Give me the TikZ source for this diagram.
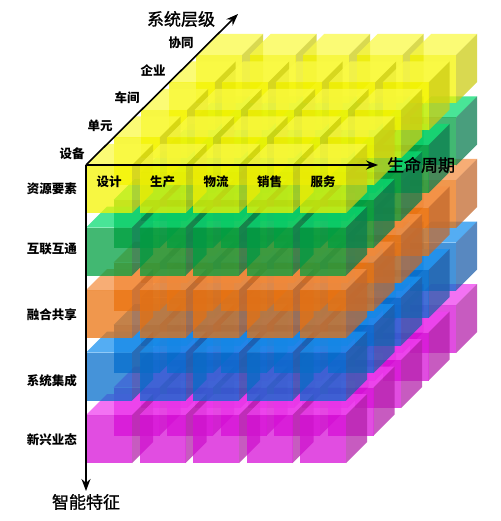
\documentclass[tikz,border=0pt]{standalone}
\usepackage{fontspec}
\newfontfamily\cjk{Noto Sans CJK SC}
\newfontfamily\cjkm[FakeBold=1.2]{Noto Sans CJK SC}
\usetikzlibrary{arrows.meta}
\definecolor{front0}{RGB}{245,245,0}
\definecolor{top0}{RGB}{250,250,70}
\definecolor{side0}{RGB}{205,205,20}
\definecolor{front1}{RGB}{0,160,65}
\definecolor{top1}{RGB}{10,220,115}
\definecolor{side1}{RGB}{10,125,80}
\definecolor{front2}{RGB}{235,115,15}
\definecolor{top2}{RGB}{245,145,70}
\definecolor{side2}{RGB}{195,105,45}
\definecolor{front3}{RGB}{5,110,205}
\definecolor{top3}{RGB}{25,145,240}
\definecolor{side3}{RGB}{30,95,170}
\definecolor{front4}{RGB}{215,15,215}
\definecolor{top4}{RGB}{240,65,240}
\definecolor{side4}{RGB}{180,35,170}
\begin{document}
\begin{tikzpicture}[x=1pt,y=-1pt,
  lbl/.style={font=\cjk\bfseries\fontsize{12.5}{14}\selectfont, inner sep=0pt},
  ttl/.style={font=\cjkm\fontsize{17}{19}\selectfont, inner sep=0pt},
  axis/.style={line width=1.6pt, -{Stealth[length=12pt,width=9pt]}},
  face/.style={fill opacity=0.74, draw=none}]
\useasboundingbox (0,0) rectangle (500,521);
\fill[white] (0,0) rectangle (500,521);
\foreach \k in {4,3,2,1,0}{
 \foreach \j in {4,3,2,1,0}{
  \foreach \i in {0,...,4}{
   \pgfmathsetmacro\xo{86+\i*53.5+\k*27.5}
   \pgfmathsetmacro\yo{165+\j*62.5-\k*27.5}
   \fill[face, fill=top\j] (\xo,\yo) -- ++(46,0) -- ++(21,-21) -- ++(-46,0) -- cycle;
   \fill[face, fill=side\j] (\xo+46,\yo) -- ++(21,-21) -- ++(0,48) -- ++(-21,21) -- cycle;
   \fill[face, fill=front\j] (\xo,\yo) rectangle ++(46,48);
  }}}
\coordinate (O) at (86,165);
\coordinate (Xe) at (378,165);
\coordinate (Ye) at (86,491);
\coordinate (Ze) at (238,14);
\draw[axis] (O) -- (Xe);
\draw[axis] (O) -- (Ye);
\draw[axis] (O) -- (Ze);
\node[ttl] (tz) at (181,19) {系统层级};
\node[ttl] (tx) at (421,165) {生命周期};
\node[ttl] (ty) at (86,502) {智能特征};
\node[lbl] (d0) at (72,154) {设备};
\node[lbl] (d1) at (100,126) {单元};
\node[lbl] (d2) at (127,98) {车间};
\node[lbl] (d3) at (153,71) {企业};
\node[lbl] (d4) at (181,43) {协同};
\node[lbl,anchor=east] (l0) at (77,189) {资源要素};
\node[lbl,anchor=east] (l1) at (77,249) {互联互通};
\node[lbl,anchor=east] (l2) at (77,315) {融合共享};
\node[lbl,anchor=east] (l3) at (77,381) {系统集成};
\node[lbl,anchor=east] (l4) at (77,440) {新兴业态};
\node[lbl] (c0) at (109,182) {设计};
\node[lbl] (c1) at (162.5,182) {生产};
\node[lbl] (c2) at (216,182) {物流};
\node[lbl] (c3) at (269.5,182) {销售};
\node[lbl] (c4) at (323,182) {服务};
\end{tikzpicture}
\end{document}
